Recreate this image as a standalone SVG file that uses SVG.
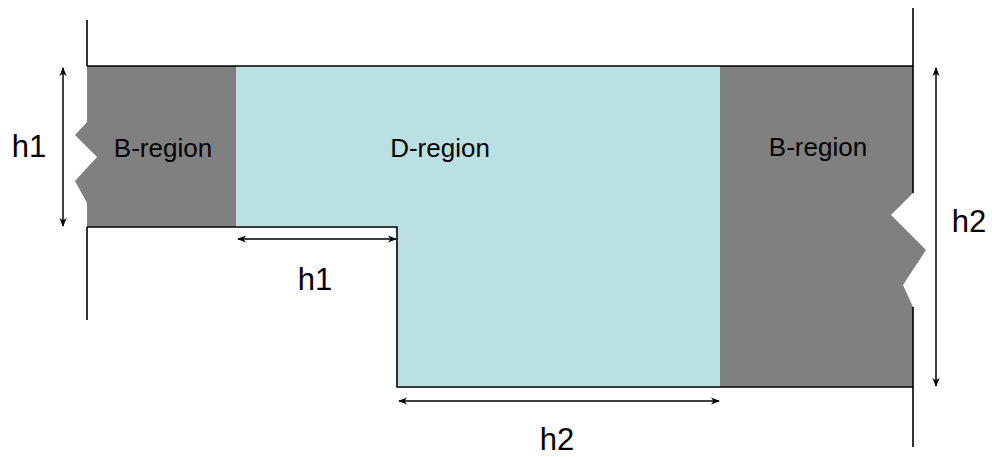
<svg xmlns="http://www.w3.org/2000/svg" width="992" height="457" viewBox="0 0 992 457">
<style>
.lbl{font-family:"Liberation Sans",Arial,sans-serif;fill:#000;text-anchor:middle}
.reg{font-size:26px}
.dim{font-size:31px}
.edge{stroke:#000;stroke-width:1.6;fill:none}
.dimln{stroke:#000;stroke-width:1.5;fill:none;marker-start:url(#ah);marker-end:url(#ah)}
</style>
<defs>
<marker id="ah" viewBox="0 0 10 10" refX="9" refY="5" markerWidth="9" markerHeight="9" orient="auto-start-reverse" markerUnits="userSpaceOnUse">
<path d="M0,1 L10,5 L0,9 L3,5 Z" fill="#000"/>
</marker>
</defs>
<rect width="992" height="457" fill="#fff"/>
<g id="d-region">
<polygon points="236,66 720,66 720,387 397,387 397,227 236,227" fill="#BAE0E3"/>
<text class="lbl reg" x="440" y="157">D-region</text>
</g>
<g id="b-region-left">
<polygon points="87,66 236,66 236,227 87,227 87,203 75,181 97,157 75,135 87,122" fill="#808080"/>
<text class="lbl reg" x="163" y="157">B-region</text>
</g>
<g id="b-region-right">
<polygon points="720,66 913,66 913,193 891,215 926,250 903,285 913,307 913,387 720,387" fill="#808080"/>
<text class="lbl reg" x="818" y="156">B-region</text>
</g>
<g id="outline">
<line class="edge" x1="87" y1="20" x2="87" y2="66"/>
<line class="edge" x1="87" y1="227" x2="87" y2="320"/>
<line class="edge" x1="913" y1="8" x2="913" y2="193"/>
<line class="edge" x1="913" y1="307" x2="913" y2="447"/>
<line class="edge" x1="87" y1="66" x2="913" y2="66"/>
<polyline class="edge" points="87,227 397,227 397,387 913,387"/>
</g>
<g id="connectors">
<line class="dimln" x1="63" y1="68" x2="63" y2="226"/>
<line class="dimln" x1="936" y1="68" x2="936" y2="386"/>
<line class="dimln" x1="238" y1="239" x2="396" y2="239"/>
<line class="dimln" x1="399" y1="401" x2="719" y2="401"/>
</g>
<g id="labels">
<text class="lbl dim" x="29" y="157">h1</text>
<text class="lbl dim" x="969" y="232">h2</text>
<text class="lbl dim" x="315" y="290">h1</text>
<text class="lbl dim" x="557" y="450">h2</text>
</g>
</svg>
